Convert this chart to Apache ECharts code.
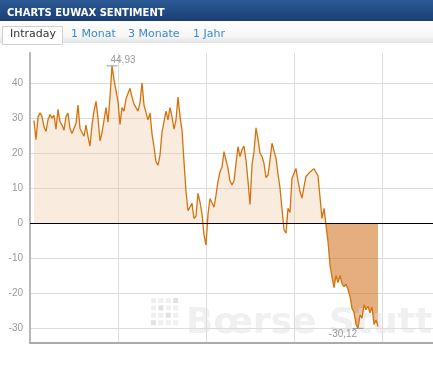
<!DOCTYPE html>
<html><head><meta charset="utf-8">
<script src="https://cdn.jsdelivr.net/npm/echarts@6/dist/echarts.min.js"></script>
<style>html,body{margin:0;padding:0;background:#fff}#c{width:433px;height:386px}</style>
</head><body><div id="c"></div>
<script>
const title = 'CHARTS EUWAX SENTIMENT';
const tabs = ['Intraday', '1 Monat', '3 Monate', '1 Jahr'];
const tabX = [10, 71, 128, 193];
const watermark = 'Bœrse Stuttgart';
const yMin = -30, yMax = 40, yStep = 10;
// intraday sentiment readings, one every time step
const sentiment = [
  29.3, 23.8, 30.2, 31.5, 30.5, 27.5, 26.2, 29.5, 31, 30,
  30.8, 26.8, 32.5, 29, 28, 26.5, 30.4, 31.4, 27, 25.6,
  25.1, 28.5, 33.7, 27, 27.5, 24.8, 28, 24.7, 22, 28,
  32, 34.8, 30, 23.5, 25.8, 25.8, 33, 28.8, 36, 44.93,
  41, 40.5, 34.7, 28.2, 33, 32, 35.5, 35, 38.5, 36,
  34, 34, 32, 34.4, 40.1, 33.7, 33.5, 29.5, 31.5, 25.5,
  21.8, 17.5, 16.5, 19.4, 26, 29, 32, 29.5, 33, 30.4,
  26.8, 29.5, 36, 30.5, 26.5, 17.5, 9, 3.5, 3.7, 5.6,
  1.3, 2, 8.5, 6, 2.5, -3.4, -6.3, 2.5, 7, 7,
  4.5, 8, 12, 14.6, 16, 20.4, 18, 15.6, 12, 10.9,
  12, 17, 21.8, 19, 21, 22, 18, 12, 5.3, 16.6,
  20.4, 27.2, 24, 20, 19, 17, 13, 13.7, 18, 22.8,
  23, 18.5, 14, 10, 4, -2, -2.9, 4.2, 3, 12.8,
  12.5, 15.6, 12, 9, 7.1, 10.4, 13.3, 13.2, 14.6, 15.1,
  15.5, 15.8, 13.5, 14, 1.3, 4.2, -0.6, -5.3, -12, -15.5,
  -18.5, -15, -17, -15, -17.3, -18.2, -17.5, -19, -21, -24.4,
  -25.5, -29, -30.12, -26.3, -27.2, -23.4, -24.8, -23.8, -25.7, -24,
  -29, -27.7, -29.6
];

const lineData = sentiment.map((v, i) => [i, v]);
const posData = sentiment.map((v, i) => [i, Math.max(v, 0)]);
let lastNonNeg = 0;
sentiment.forEach((v, i) => { if (v >= 0) lastNonNeg = i; });
const negData = sentiment.map((v, i) => [i, i >= lastNonNeg ? Math.min(v, 0) : '-']);

const chart = echarts.init(document.getElementById('c'), null, {renderer: 'canvas'});
const fmt = p => p.value.toFixed(2).replace('.', ',');

const dots = [];
const dark = [[0,3],[1,1],[2,2],[3,0]];
for (let r = 0; r < 4; r++) for (let c = 0; c < 4; c++) {
  const isDark = dark.some(d => d[0] === r && d[1] === c);
  dots.push({type: 'rect', z: 1.5, shape: {x: 151 + c * 7.4, y: 298 + r * 7.4, width: 5, height: 5},
    style: {fill: isDark ? 'rgba(195,195,195,0.5)' : 'rgba(220,220,220,0.45)'}});
}

chart.setOption({
  animation: false,
  grid: [
    {left: 30, right: 0, top: 53, bottom: 43},
    {left: 30, right: 0, top: 83, bottom: 58}
  ],
  xAxis: [
    {type: 'value', gridIndex: 0, min: -2, max: 199.5, interval: 44,
      axisLine: {show: true, onZero: false, lineStyle: {color: '#aaaaaa', width: 2}},
      axisTick: {show: false}, axisLabel: {show: false},
      splitLine: {show: true, showMaxLine: false, lineStyle: {color: '#dcdcdc', width: 1}}},
    {type: 'value', gridIndex: 1, min: 0, max: 1, show: false}
  ],
  yAxis: [
    {type: 'value', gridIndex: 0, min: -34.3, max: 48.6,
      axisLine: {show: true, onZero: false, lineStyle: {color: '#b8b8b8', width: 2}},
      axisTick: {show: false}, axisLabel: {show: false}, splitLine: {show: false}},
    {type: 'value', gridIndex: 1, min: yMin, max: yMax, interval: yStep,
      axisLine: {show: false}, axisTick: {show: false},
      axisLabel: {color: '#9a9a9a', fontSize: 10, fontFamily: 'Liberation Sans', margin: 7},
      splitLine: {show: true, lineStyle: {color: '#dcdcdc', width: 1}}}
  ],
  graphic: [
    {type: 'rect', shape: {x: 0, y: 0, width: 433, height: 21},
      style: {fill: new echarts.graphic.LinearGradient(0, 0, 0, 1, [{offset: 0, color: '#2d5a95'}, {offset: 1, color: '#193d73'}])}},
    {type: 'text', style: {x: 7, y: 13, text: title, font: 'bold 10px "DejaVu Sans"', fill: '#ffffff', verticalAlign: 'middle'}},
    {type: 'rect', shape: {x: 0, y: 21, width: 433, height: 22},
      style: {fill: new echarts.graphic.LinearGradient(0, 0, 0, 1, [{offset: 0, color: '#ffffff'}, {offset: 0.7, color: '#f6f6f6'}, {offset: 1, color: '#e2e2e2'}])}},
    {type: 'rect', shape: {x: 2.5, y: 26.5, width: 60, height: 18},
      style: {fill: '#ffffff', stroke: '#d0d0d0', lineWidth: 1}},
    {type: 'text', style: {x: tabX[0], y: 34.5, text: tabs[0], font: '11px "DejaVu Sans"', fill: '#333333', verticalAlign: 'middle'}},
    {type: 'text', style: {x: tabX[1], y: 34.5, text: tabs[1], font: '11px "DejaVu Sans"', fill: '#3a8ad0', verticalAlign: 'middle'}},
    {type: 'text', style: {x: tabX[2], y: 34.5, text: tabs[2], font: '11px "DejaVu Sans"', fill: '#3a8ad0', verticalAlign: 'middle'}},
    {type: 'text', style: {x: tabX[3], y: 34.5, text: tabs[3], font: '11px "DejaVu Sans"', fill: '#3a8ad0', verticalAlign: 'middle'}},
    {type: 'text', z: 1.5, style: {x: 186, y: 324, text: watermark, font: 'bold 36px "DejaVu Sans"', fill: 'rgba(222,222,222,0.45)', verticalAlign: 'middle'}}
  ].concat(dots),
  series: [
    {type: 'line', xAxisIndex: 0, yAxisIndex: 0, data: posData, z: 1, showSymbol: false, silent: true,
      lineStyle: {width: 0, opacity: 0}, areaStyle: {color: 'rgba(238,196,155,0.33)', opacity: 1}},
    {type: 'line', xAxisIndex: 0, yAxisIndex: 0, data: negData, z: 1, showSymbol: false, silent: true,
      lineStyle: {width: 0, opacity: 0}, areaStyle: {color: 'rgba(212,120,40,0.6)', opacity: 1}},
    {type: 'line', xAxisIndex: 0, yAxisIndex: 0, data: lineData, z: 3, showSymbol: false, silent: true,
      lineStyle: {color: '#d4730c', width: 1.3},
      markLine: {silent: true, symbol: ['none', 'none'], label: {show: false},
        lineStyle: {color: '#000000', width: 1, type: 'solid'}, data: [{yAxis: 0}]},
      markPoint: {silent: true, symbol: 'rect', symbolSize: [11, 1], itemStyle: {color: '#999999'},
        label: {show: true, formatter: fmt, color: '#9a9a9a', fontSize: 10, fontFamily: 'Liberation Sans'},
        data: [
          {type: 'max', label: {position: 'top', distance: 0, offset: [11, 0]}},
          {type: 'min', label: {position: 'bottom', distance: 0, offset: [-15, 0]}}
        ]}}
  ]
});
</script></body></html>
